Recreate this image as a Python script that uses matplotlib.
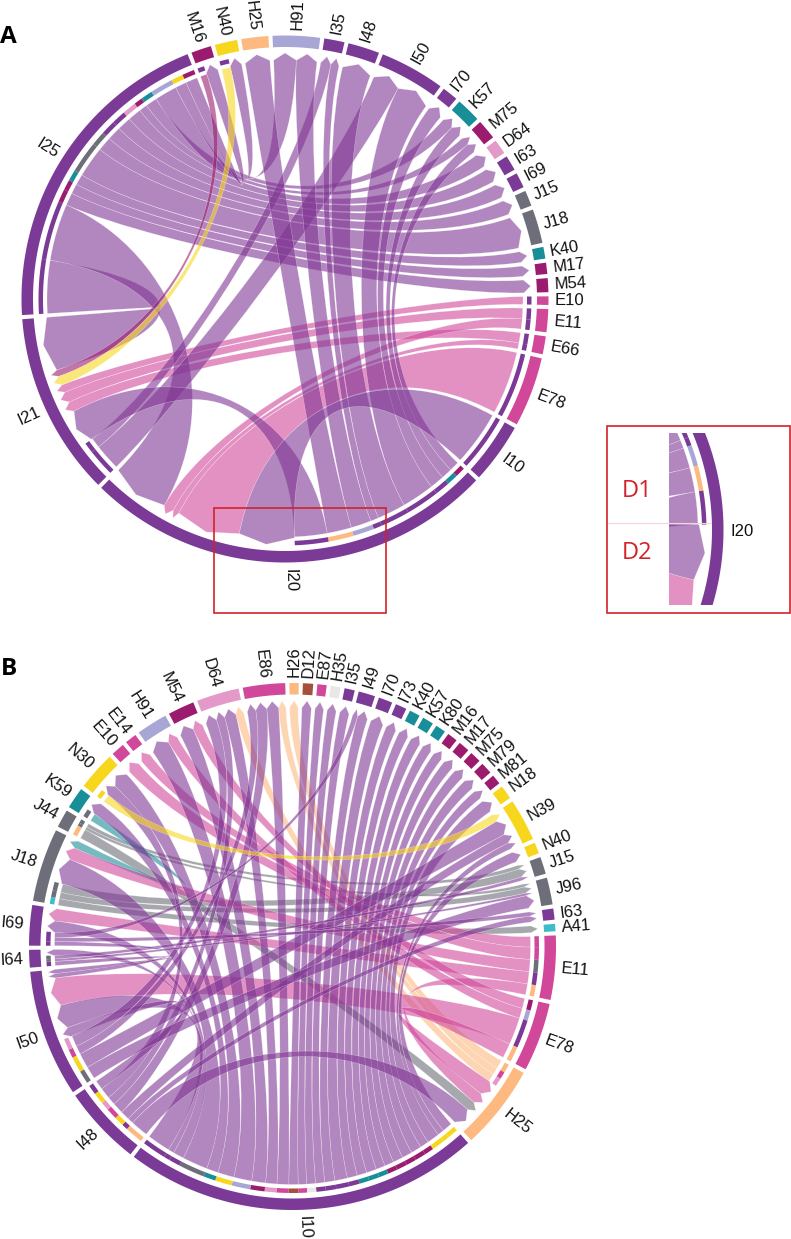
import numpy as np
import matplotlib
matplotlib.use("Agg")
import matplotlib.pyplot as plt
from matplotlib.patches import Polygon, PathPatch, Rectangle
from matplotlib.path import Path
from matplotlib.colors import to_rgba

plt.rcParams['font.family'] = ['Liberation Sans', 'DejaVu Sans']

# ---------- data: panel A ----------
a_sectors = ["I25","M16","N40","H25","H91","I35","I48","I50","I70","K57","M75","D64","I63","I69",
             "J15","J18","K40","M17","M54","E10","E11","E66","E78","I10","I20","I21"]
a_sources = ["I25"]*15 + ["I21"]*2 + ["I20"]*9 + ["I10","E78","E66","E66","E11","E11","E10","N40","M16"]
a_targets = ["I21","I20","M54","M17","K40","J18","J15","I69","I63","D64","M75","K57","H91","N40","M16",
             "I50","I35",
             "M75","K57","I70","I50","I48","I35","H91","H25","I21",
             "I20","I20","I20","I21","I20","I21","I21","I21","I21"]
a_values = [13,14,3.1,2.5,2.6,7.6,3.5,3.4,3.4,3.3,2,2.8,5.5,2.8,2.9,
            6.5,2.5,
            2.4,2.7,3.5,8,7,2,5,6,8,
            13.4,15.5,1.5,2.5,2.5,2.6,1.9,2.2,1.6]

# ---------- data: panel B ----------
b_sectors = ["I10","I48","I50","I64","I69","J18","J44","K59","N30","E10","E14","H91","M54","D64","E86",
             "H26","D12","E87","H35","I35","I49","I70","I73","K40","K57","K80","M16","M17","M75","M79",
             "M81","N18","N39","N40","J15","J96","I63","A41","E11","E78","H25"]
b_sources = (["I10"]*28 + ["I48"]*7 + ["I50"]*4 + ["I64"]*3 + ["I69"]*3 + ["J18"]*3 + ["J44"]*3 +
             ["K59","N30"] + ["E11"]*5 + ["E78"]*4 + ["H25"]*3)
b_targets = ["N40","N39","N18","M81","M79","M75","M17","M16","K80","K57","K40","I73","I70","I49",
             "I35","H35","E87","D12","E86","D64","M54","H91","N30","K59","J18","I69","I64","I50",
             "H25","I63","N39","E86","D64","N30","I50",
             "J96","N39","E86","D64",
             "I50","J96","J15",
             "I50","I49","I63",
             "A41","J15","J96",
             "H25","J15","J96",
             "J18","N39",
             "E14","E10","J18","I69","H25",
             "M54","H91","I50","H25",
             "H26","E86","D64"]
b_values = [2.4,1.5,3.0,2.1,2.5,2.4,2.4,2.2,2.2,2.4,2.3,2.4,3.0,2.4,
            2.2,2.1,2,2.2,2.8,2.7,3.3,4.3,3.9,2.8,6,2.6,1.4,5.5,
            4.2,1.4,2.2,2.6,2,2.6,2.2,
            3,3.6,2,2.6,
            1,.6,.8,
            1,1.2,1,
            1.6,2,1.5,
            2.3,.9,.7,
            1.8,1.8,
            2.5,2.9,2.9,2.9,2.6,
            2.4,2.4,6.5,3.5,
            2,1.7,1.9]

# ---------- style ----------
PURPLE="#7B3A96"; MAG="#9B1B6E"; YEL="#F7D71E"; PEACH="#FDB97F"; LAV="#A7A6D5"
TEAL="#188E99"; PINK="#E49AC8"; GRAY="#6D6E79"; EMAG="#D1489B"
def color_of(name):
    special={"H25":PEACH,"H26":PEACH,"H91":LAV,"H35":"#E8E8E8","D64":PINK,"D12":"#A5503D","A41":"#3EBCC7"}
    if name in special: return special[name]
    return {"I":PURPLE,"M":MAG,"N":YEL,"K":TEAL,"J":GRAY,"E":EMAG}[name[0]]
def ribbon_color(name):
    return "#7F3593" if name[0]=="I" else color_of(name)
LAYER={"H":0,"J":1,"K":1,"E":3,"I":4,"M":5,"N":6}

R_OUT=263.5; R_IN=252; S_OUT=246.5; S_IN=242; R_SRC=238; R_TIP=246; R_BASE=239
ALPHA=0.6; GAP=0.9

fig=plt.figure(figsize=(7.91,12.39),dpi=100)
ax=fig.add_axes([0,0,1,1]); ax.set_xlim(0,791); ax.set_ylim(1239,0); ax.axis('off')

def chord(sectors,sources,targets,values,cx,cy,start,rot=0.0,clip=None,labels=True):
    def xy(th,r):
        t=np.radians(np.asarray(th)+rot)
        return float(cx+r*np.sin(t)), float(cy-r*np.cos(t))
    def arc(a,b,r,n=None):
        n=n or max(2,int(abs(b-a)*2)+2)
        return [xy(t,r) for t in np.linspace(a,b,n)]
    def add(p):
        ax.add_patch(p)
        if clip is not None: p.set_clip_path(clip)
    total={s:0.0 for s in sectors}
    for s,t,v in zip(sources,targets,values):
        total[s]+=v; total[t]+=v
    scale=(360-GAP*len(sectors))/sum(total.values())
    span={};a=start
    for s in sectors:
        span[s]=(a,a+total[s]*scale); a=a+total[s]*scale+GAP
    mid={s:(span[s][0]+span[s][1])/2 for s in sectors}
    cw=lambda f,t:(mid[t]-mid[f])%360
    slots={}
    for s in sectors:
        out=[i for i,x in enumerate(sources) if x==s]
        inc=[i for i,x in enumerate(targets) if x==s]
        out.sort(key=lambda i:-cw(s,targets[i]))
        inc.sort(key=lambda i:-cw(s,sources[i]))
        a=span[s][0]
        for i in out:
            w=values[i]*scale; slots[(i,'s')]=(a,a+w); a+=w
        for i in inc:
            w=values[i]*scale; slots[(i,'t')]=(a,a+w); a+=w
    dist=lambda p,q:abs((q-p+180)%360-180)
    def edge(p,q):
        # radial departure at both ends; long chords are held further out
        k=0.34+0.22*min(1,dist(p,q)/130)
        return [xy(p,k*R_SRC),xy(q,k*R_SRC)]
    order=sorted(range(len(sources)),key=lambda i:LAYER[sources[i][0]])
    for i in order:
        s,t=sources[i],targets[i]
        a0,a1=slots[(i,'s')]; b0,b1=slots[(i,'t')]
        pts=arc(a0,a1,R_SRC)
        verts=list(pts); codes=[Path.MOVETO]+[Path.LINETO]*(len(pts)-1)
        verts+=edge(a1,b0)+[xy(b0,R_BASE)]; codes+=[Path.CURVE4]*3
        verts+=[xy((b0+b1)/2,R_TIP),xy(b1,R_BASE)]; codes+=[Path.LINETO]*2
        verts+=edge(b1,a0)+[pts[0]]; codes+=[Path.CURVE4]*3
        verts.append(pts[0]); codes.append(Path.CLOSEPOLY)
        add(PathPatch(Path(verts,codes),facecolor=to_rgba(ribbon_color(s),ALPHA),
                      edgecolor=(1,1,1,0.5),lw=0.3,zorder=2))
        st=arc(a0,a1,S_OUT)+arc(a1,a0,S_IN)
        add(Polygon(st,closed=True,facecolor=color_of(t),edgecolor='none',zorder=3))
    for s in sectors:
        a,b=span[s]
        add(Polygon(arc(a,b,R_OUT)+arc(b,a,R_IN),closed=True,
                    facecolor=color_of(s),edgecolor='none',zorder=4))
        if labels:
            m=mid[s]%360
            x,y=xy(m,R_OUT+6)
            right=m<=180
            ax.text(x,y,s,rotation=(90-m) if right else (270-m),ha='left' if right else 'right',
                    va='center',rotation_mode='anchor',fontsize=12,color='#111111',zorder=6)

chord(a_sectors,a_sources,a_targets,a_values,285,299,266.5)
chord(b_sectors,b_sources,b_targets,b_values,292.5,946.5,138.2)

# inset: same chord, turned, shown through a window
win=Rectangle((669,433),75,172,transform=ax.transData,facecolor='none',edgecolor='none')
ax.add_patch(win)
chord(a_sectors,a_sources,a_targets,a_values,460,530,266.5,rot=-89,clip=win,labels=False)

RED="#D2232A"
ax.add_patch(Rectangle((213.5,508),172.5,105,fill=False,edgecolor=RED,lw=1.2,zorder=7))
ax.add_patch(Rectangle((607,425.5),183,187.5,fill=False,edgecolor=RED,lw=1.2,zorder=7))
ax.plot([608,711],[523,523],color="#F6D5D8",lw=0.8,zorder=5)
ax.text(637,491,"D1",color=RED,fontsize=17,family='Open Sans',ha='center',va='center',zorder=8)
ax.text(637,553,"D2",color=RED,fontsize=17,family='Open Sans',ha='center',va='center',zorder=8)
ax.text(730,531,"I20",fontsize=12,color='#111111',ha='left',va='center',zorder=8)
ax.text(0,37,"A",fontsize=17.5,fontweight='bold',family='Open Sans',ha='left',va='center',color='black')
ax.text(1,669,"B",fontsize=17.5,fontweight='bold',family='Open Sans',ha='left',va='center',color='black')

fig.savefig("out.png",dpi=100)
